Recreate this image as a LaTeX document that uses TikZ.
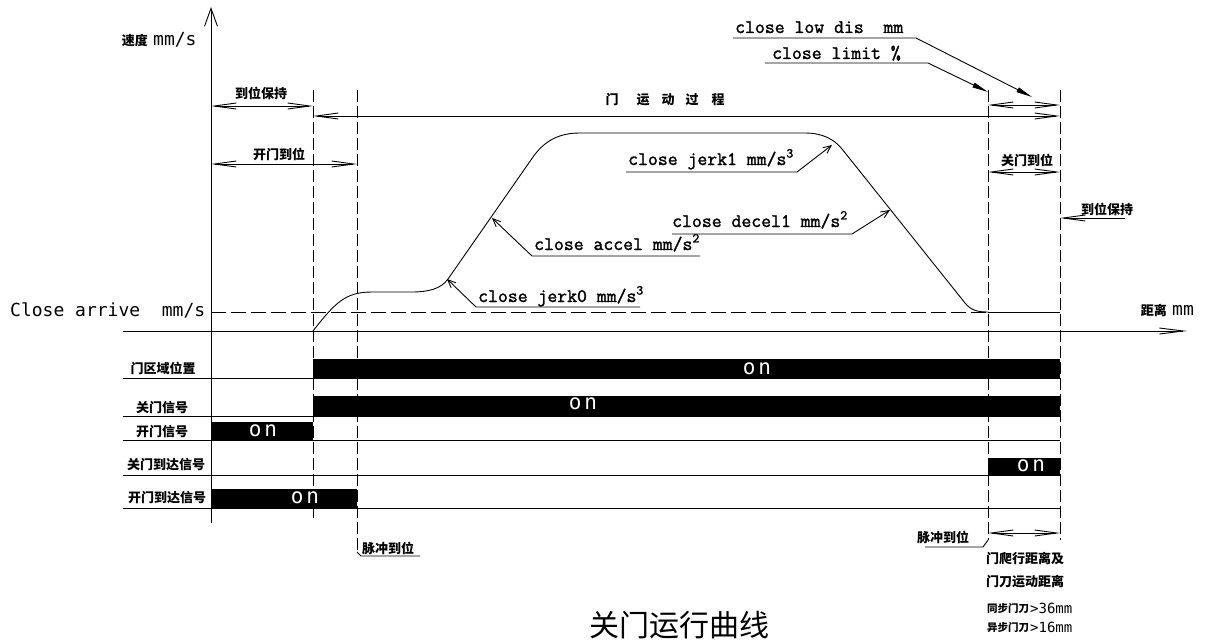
\documentclass[tikz,border=0pt]{standalone}
\usepackage{fontspec}
\usetikzlibrary{arrows.meta}
\newfontfamily\cjk{Noto Sans CJK SC}
\newfontfamily\lbl{Latin Modern Mono}[FakeBold=1.6]
\newfontfamily\simp{DejaVu Sans Mono}
\tikzset{
  ln/.style={line width=0.9pt},
  dsh/.style={line width=0.9pt, dash pattern=on 12pt off 4pt},
  dsh2/.style={line width=0.9pt, dash pattern=on 15pt off 5pt},
  barb/.tip={Straight Barb[length=22pt,width=6pt]},
  dimline/.style={line width=0.9pt, barb-barb},
  lead/.style={line width=0.9pt, -{Straight Barb[length=8pt,width=7pt]}},
  flead/.style={line width=0.9pt, -{Triangle[length=16pt,width=5pt]}},
  cn/.style={font=\cjk\bfseries\fontsize{13}{15}\selectfont, inner sep=0pt},
  cl/.style={font=\lbl\fontsize{19.2}{20}\selectfont, inner sep=0pt, anchor=base west},
  sm/.style={font=\simp\fontsize{18}{20}\selectfont, inner sep=0pt},
  onlbl/.style={font=\simp\fontsize{21}{22}\selectfont, inner sep=0pt, text=white},
  sigbar/.style={fill=black}
}
\begin{document}
\begin{tikzpicture}[x=1pt,y=-1pt]
\useasboundingbox (0,0) rectangle (1212,642);

% ---------- axes ----------
\coordinate (ybot) at (211,523);
\coordinate (ytop) at (211,7);
\coordinate (xl) at (123,331);
\coordinate (xr) at (1187,331);
\draw[ln,-{Straight Barb[length=18pt,width=13pt]}] (ybot) -- (ytop);
\draw[ln,-{Straight Barb[length=24pt,width=6pt]}] (xl) -- (xr);

\node[cn, anchor=east] (vlab) at (148,41) {速度};
\node[sm, anchor=west] (vunit) at (153,40) {mm/s};
\node[cn, anchor=east] (dlab) at (1167,310) {距离};
\node[sm, anchor=west] (dunit) at (1172,310) {mm};
\node[sm, anchor=west] (carr) at (10,310) {Close arrive\ \ mm/s};

% ---------- dashed verticals ----------
\coordinate (a1) at (313,90);  \coordinate (a2) at (313,520);
\coordinate (b1) at (357,90);  \coordinate (b2) at (357,552);
\coordinate (c1) at (988,90);  \coordinate (c2) at (988,540);
\coordinate (d1) at (1060,90); \coordinate (d2) at (1060,540);
\draw[dsh] (a1) -- (a2);
\draw[dsh] (b1) -- (b2);
\draw[dsh] (c1) -- (c2);
\draw[dsh] (d1) -- (d2);

% ---------- close arrive level ----------
\coordinate (ca0) at (211,312);
\coordinate (ca1) at (988,312);
\coordinate (ca2) at (1060,312);
\draw[dsh2] (ca0) -- (ca1);
\draw[ln] (ca1) -- (ca2);

% ---------- dimension lines top ----------
\coordinate (h1a) at (211,106); \coordinate (h1b) at (313,106);
\draw[dimline] (h1a) -- (h1b);
\node[cn] (t_hold1) at (261,93) {到位保持};

\coordinate (m1a) at (313,116); \coordinate (m1b) at (1060,116);
\draw[dimline] (m1a) -- (m1b);
\node[cn] (t_m1) at (612,100) {门};
\node[cn] (t_m2) at (643,100) {运};
\node[cn] (t_m3) at (668,100) {动};
\node[cn] (t_m4) at (692,100) {过};
\node[cn] (t_m5) at (718,100) {程};

\coordinate (o1a) at (211,164); \coordinate (o1b) at (357,164);
\draw[dimline] (o1a) -- (o1b);
\node[cn] (t_open) at (279,154) {开门到位};

\coordinate (lda) at (988,105); \coordinate (ldb) at (1060,105);
\draw[dimline] (lda) -- (ldb);

\coordinate (cda) at (988,172); \coordinate (cdb) at (1060,172);
\draw[dimline] (cda) -- (cdb);
\node[cn] (t_close) at (1027,160) {关门到位};

\coordinate (hr1) at (1060,218); \coordinate (hr2) at (1125,218);
\draw[ln, barb-] (hr1) -- (hr2);
\node[cn] (t_hold2) at (1107,209) {到位保持};

% ---------- leaders top right ----------
\node[cl] (t_low) at (735,33) {close low dis\ \ mm};
\coordinate (lw1) at (733,38); \coordinate (lw2) at (916,38); \coordinate (lw3) at (1032,97);
\draw[flead] (lw1) -- (lw2) -- (lw3);
\node[cl] (t_lim) at (772,59) {close limit \%};
\coordinate (li1) at (765,63); \coordinate (li2) at (928,63); \coordinate (li3) at (988,92);
\draw[flead] (li1) -- (li2) -- (li3);

% ---------- speed curve ----------
\draw[ln] (313,331) .. controls (335,303) and (345,292) .. (372,292)
  -- (412,292) .. controls (428,292) and (441,289) .. (448,279)
  -- (533,157) .. controls (545,140) and (560,133) .. (580,133)
  -- (805,133) .. controls (822,133) and (834,139) .. (842,149)
  -- (965,303) .. controls (971,310.5) and (978,312) .. (988,312);

% ---------- curve annotations ----------
\node[cl] (t_j1) at (628,165) {close jerk1 mm/s\textsuperscript{3}};
\coordinate (j1a) at (626,172); \coordinate (j1b) at (797,172); \coordinate (j1c) at (832,145);
\draw[lead] (j1a) -- (j1b) -- (j1c);

\node[cl] (t_dec) at (672,227) {close decel1 mm/s\textsuperscript{2}};
\coordinate (dea) at (672,234); \coordinate (deb) at (852,234); \coordinate (dec) at (890,210);
\draw[lead] (dea) -- (deb) -- (dec);

\node[cl] (t_acc) at (534,250) {close accel mm/s\textsuperscript{2}};
\coordinate (aca) at (700,256); \coordinate (acb) at (532,256); \coordinate (acc) at (492,218);
\draw[lead] (aca) -- (acb) -- (acc);

\node[cl] (t_j0) at (478,302) {close jerk0 mm/s\textsuperscript{3}};
\coordinate (j0a) at (640,307); \coordinate (j0b) at (476,307); \coordinate (j0c) at (447,279);
\draw[lead] (j0a) -- (j0b) -- (j0c);

% ---------- signal rows ----------
\fill[sigbar] (313,359) rectangle (1060,378);
\fill[sigbar] (313,396) rectangle (1060,416);
\fill[sigbar] (211,422) rectangle (313,440);
\fill[sigbar] (988,458) rectangle (1060,475);
\fill[sigbar] (211,489) rectangle (357,508);

\foreach \yy in {378,416,440,475,508} {
  \draw[ln] (123,\yy) -- (1060,\yy);
}

\node[cn] (r1) at (163,368) {门区域位置};
\node[cn] (r2) at (162,408) {关门信号};
\node[cn] (r3) at (162,432) {开门信号};
\node[cn] (r4) at (166,465) {关门到达信号};
\node[cn] (r5) at (167,498) {开门到达信号};

\node[onlbl] (on1) at (757,369) {o\hspace{3pt}n};
\node[onlbl] (on2) at (583,404) {o\hspace{3pt}n};
\node[onlbl] (on3) at (263,431) {o\hspace{3pt}n};
\node[onlbl] (on4) at (1031,466) {o\hspace{3pt}n};
\node[onlbl] (on5) at (305,498) {o\hspace{3pt}n};

% ---------- bottom annotations ----------
\coordinate (p1) at (361,556); \coordinate (p2) at (420,556);
\draw[ln] (b2) -- (p1) -- (p2);
\node[cn] (t_pl) at (388,548) {脉冲到位};

\coordinate (q1) at (983,547); \coordinate (q2) at (925,547);
\draw[ln] (c2) -- (q1) -- (q2);
\node[cn] (t_pr) at (943,537) {脉冲到位};

\coordinate (ba) at (988,533); \coordinate (bb) at (1060,533);
\draw[dimline] (ba) -- (bb);

\node[cn, anchor=west] (n1) at (986,558) {门爬行距离及};
\node[cn, anchor=west] (n2) at (986,582) {门刀运动距离};
\node[cn, anchor=west, font=\cjk\bfseries\fontsize{10.5}{12}\selectfont] (n3) at (987,608) {同步门刀};
\node[sm, anchor=west, font=\simp\fontsize{14}{16}\selectfont] (n3b) at (1030,608) {>36mm};
\node[cn, anchor=west, font=\cjk\bfseries\fontsize{10.5}{12}\selectfont] (n4) at (987,627) {异步门刀};
\node[sm, anchor=west, font=\simp\fontsize{14}{16}\selectfont] (n4b) at (1030,627) {>16mm};

% ---------- title ----------
\node[inner sep=0pt, anchor=base, font=\cjk\fontsize{30}{32}\selectfont] (title) at (679,636) {关门运行曲线};
\end{tikzpicture}
\end{document}
